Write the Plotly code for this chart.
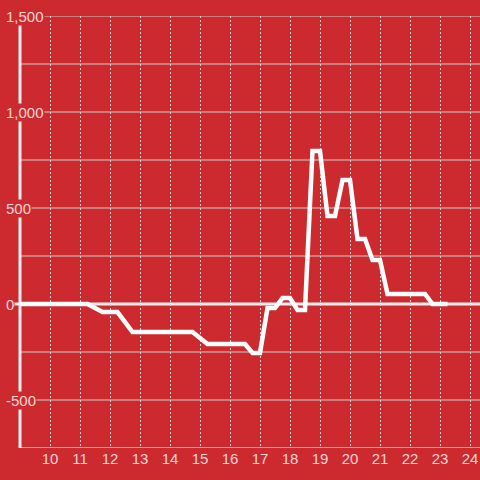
import plotly.graph_objects as go

# Data (hours of day, value)
hours = [9.0, 11.25, 11.75, 12.25, 12.75, 14.75, 15.25, 16.5, 16.75, 17.0, 17.25, 17.5,
         17.75, 18.0, 18.25, 18.5, 18.75, 19.0, 19.25, 19.5, 19.75, 20.0, 20.25, 20.5,
         20.75, 21.0, 21.25, 22.5, 22.75, 23.25]
values = [0, 0, -42, -42, -146, -146, -208, -208, -255, -255, -21, -21,
          31, 31, -31, -31, 797, 797, 458, 458, 646, 646, 339, 339,
          229, 229, 52, 52, 0, 0]

x_ticks = list(range(10, 25))
x_tick_labels = [str(t) for t in x_ticks]
y_major = [1500, 1000, 500, 0, -500]
y_major_labels = ["1,500", "1,000", "500", "0", "-500"]
y_minor = [1250, 750, 250, -250]

BG = "#cd2a2f"
TXT = "#f5d5d6"
GRID = "#cfcfcf"
AXIS = "#eeeeee"

X_MIN, X_MAX = 9 - 20 / 30, 9 + 460 / 30

fig = go.Figure()
fig.add_trace(go.Scatter(x=hours, y=values, mode="lines",
                         line=dict(color="#ffffff", width=4.5), hoverinfo="x+y"))

shapes = []
for v in y_minor:
    shapes.append(dict(type="line", xref="x", yref="y", x0=9, x1=X_MAX, y0=v, y1=v,
                       line=dict(color=GRID, width=1), layer="below"))
for v in y_major:
    if v == 0:
        continue
    shapes.append(dict(type="line", xref="paper", yref="y", x0=10 / 480, x1=1, y0=v, y1=v,
                       line=dict(color=GRID, width=1), layer="below"))
# bottom axis line
shapes.append(dict(type="line", xref="x", yref="y", x0=9, x1=X_MAX, y0=-750, y1=-750,
                   line=dict(color=GRID, width=1.5), layer="below"))
# zero line
shapes.append(dict(type="line", xref="paper", yref="y", x0=10 / 480, x1=1, y0=0, y1=0,
                   line=dict(color=AXIS, width=3), layer="below"))
# y axis line
shapes.append(dict(type="line", xref="x", yref="y", x0=9, x1=9, y0=-750, y1=1500,
                   line=dict(color=AXIS, width=3), layer="below"))

annotations = []
for v, lab in zip(y_major, y_major_labels):
    annotations.append(dict(x=5 / 480, xref="paper", xanchor="left", y=v, yref="y",
                            yanchor="middle", text=lab, showarrow=False,
                            bgcolor=BG, borderpad=0,
                            font=dict(family="Liberation Sans, Arial, sans-serif",
                                      size=15, color=TXT)))

fig.update_layout(
    width=480, height=480,
    margin=dict(l=0, r=0, t=16, b=32),
    paper_bgcolor=BG, plot_bgcolor=BG,
    showlegend=False,
    shapes=shapes,
    annotations=annotations,
    xaxis=dict(range=[X_MIN, X_MAX], tickmode="array", tickvals=x_ticks,
               ticktext=x_tick_labels, showgrid=True, griddash="2px,2px",
               gridcolor=GRID, gridwidth=1, zeroline=False, showline=False,
               ticks="", tickfont=dict(family="Liberation Sans, Arial, sans-serif",
                                        size=15, color=TXT)),
    yaxis=dict(range=[-750, 1500], showgrid=False, zeroline=False,
               showticklabels=False, showline=False),
)

fig.write_html("out.html", config={"displayModeBar": False},
               post_script="document.body.style.margin='0';document.body.style.background='" + BG + "';")
